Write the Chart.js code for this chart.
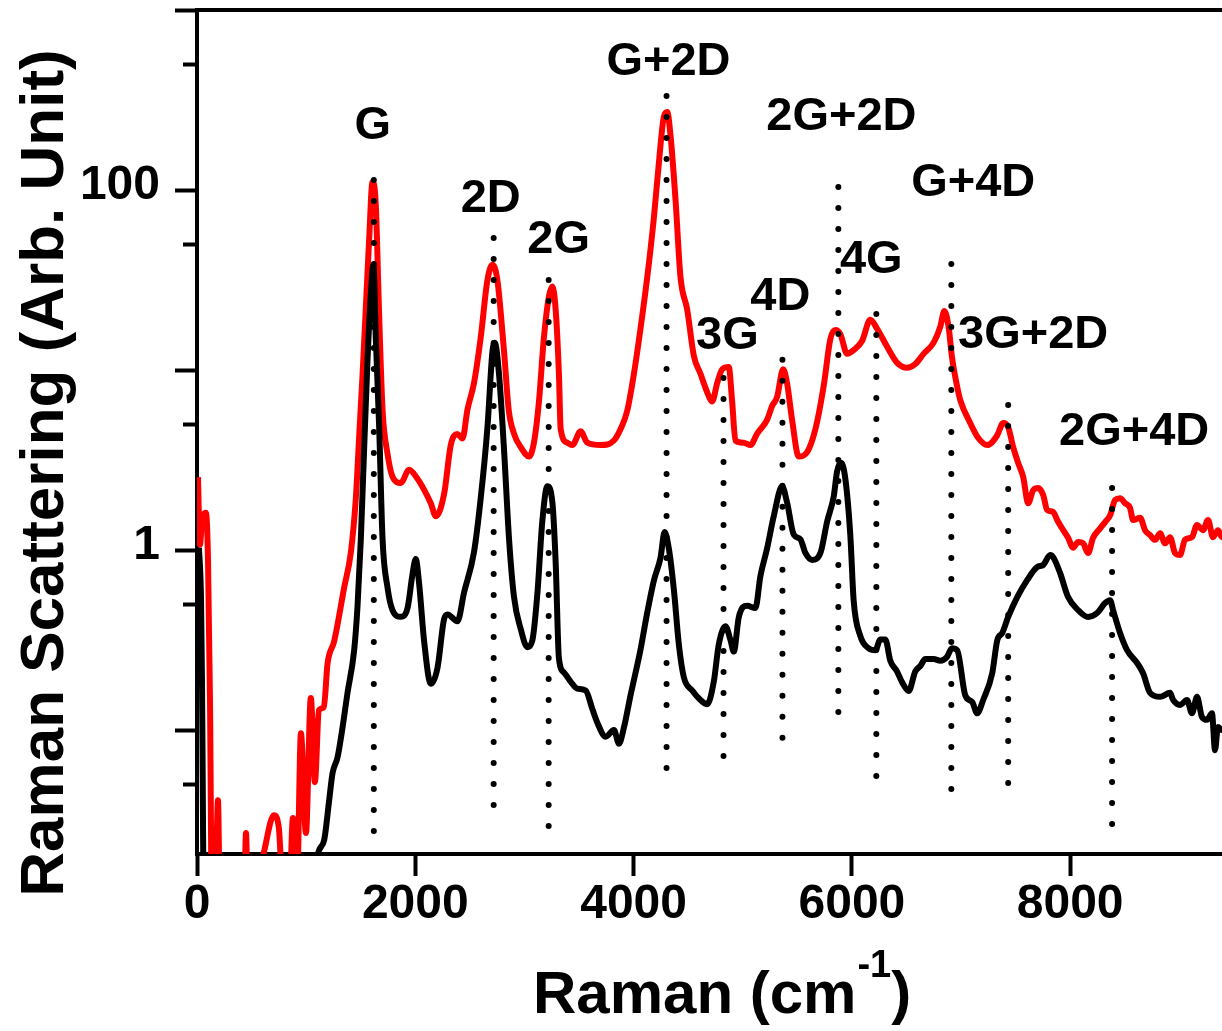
<!DOCTYPE html>
<html><head><meta charset="utf-8">
<script src="https://cdn.jsdelivr.net/npm/chart.js@4.4.0/dist/chart.umd.min.js"></script>
<style>html,body{margin:0;padding:0;background:#fff;overflow:hidden}canvas{display:block}</style>
</head><body>
<canvas id="c" width="1222" height="1031" style="width:1222px;height:1031px"></canvas>
<script>
// ---- data (Raman shift in cm^-1, intensity in arb. units) ----
const redX = [9,27,46,82,101,119,137,165,192,211,430,449,467,604,705,750,796,842,879,906,924,952,998,1043,1080,1117,1162,
1196,1257,1348,1410,1455,1486,1517,1547,1577,1608,1638,1669,1700,1746,1791,1867,1943,2020,2081,2142,2188,2264,2325,2386,2432,2478,2538,2599,2661,2707,2752,2813,2856,2904,2966,3042,3087,3133,3179,3225,3256,3286,3316,3332,3393,3439,3515,3576,3698,3820,3881,3942,4003,4064,4125,4186,4232,4277,4308,4338,4384,4430,4491,4552,4613,4674,4720,4766,4812,4872,4903,4933,5009,5071,5132,5223,5269,5315,5370,5406,5452,5513,5590,5666,5742,5803,5849,5895,5956,6016,6093,6169,6230,6322,6413,6505,6581,6657,6749,6810,6847,6886,6917,6963,6993,7084,7158,7240,7286,7332,7387,7432,7478,7524,7570,7615,7661,7707,7753,7789,7844,7881,7936,7981,8027,8073,8119,8164,8210,8274,8320,8366,8412,8457,8503,8549,8576,8641,8686,8732,8778,8824,8869,8915,8961,9006,9052,9116,9162,9217,9263,9308,9354,9391,9420];
const redY = [2.54,1.07,1.47,1.61,0.88,0.147,0.01,0.01,0.0408,0.01,0.01,0.0268,0.01,0.0199,0.0337,0.0285,0.01,0.01,0.0325,0.01,0.018,0.0962,0.0268,0.151,0.0514,0.129,0.134,
0.234,0.312,0.617,0.975,1.93,4.30,9.50,22.4,52.8,111,83.0,19.95,6.03,3.41,2.56,2.36,2.79,2.49,2.16,1.82,1.54,2.05,3.83,4.41,4.16,6.03,8.49,15.1,31.6,38.5,31.6,12.7,6.0,4.44,3.73,3.31,3.95,6.69,15.3,25.8,29.1,21.7,9.53,4.70,3.95,3.83,4.57,3.95,3.83,4.06,4.70,5.95,9.53,17.1,32.7,70.2,142,255,271,202,88.7,32.7,21.7,12.0,9.53,7.53,6.69,8.47,10.1,10.4,6.69,4.06,3.95,3.83,4.44,5.29,6.31,7.10,10.1,8.47,5.29,3.31,3.50,4.70,8.18,14.9,16.7,15.8,12.3,12.9,14.5,19.05,17.0,13.5,11.0,10.3,10.8,12.3,14.2,17.4,21.3,17.4,11.8,8.18,6.81,5.08,4.19,3.83,3.98,4.35,5.08,4.82,3.73,3.04,2.54,1.82,2.15,2.21,2.02,1.67,1.63,1.47,1.29,1.17,1.03,1.11,1.09,0.962,1.17,1.32,1.43,1.56,1.90,1.94,1.82,1.71,1.47,1.51,1.29,1.21,1.14,1.24,1.09,1.18,0.962,0.938,1.14,1.18,1.38,1.29,1.47,1.18,1.29,1.18,1.25];

const blackX = [18,37,46,64,1060,1105,1165,1211,1242,1288,1334,1379,1440,1471,1501,1531,1562,1593,1616,1638,1669,1700,1746,1791,1867,1929,1974,2004,2035,2081,2142,2203,2264,2295,2386,2447,2538,2599,2661,2707,2728,2767,2813,2859,2904,2966,3027,3073,3118,3164,3210,3256,3286,3316,3362,3423,3484,3561,3622,3668,3744,3820,3866,3911,3972,4064,4125,4186,4247,4284,4323,4369,4415,4460,4537,4613,4674,4735,4780,4842,4888,4918,4964,5040,5116,5162,5223,5284,5361,5406,5467,5528,5574,5636,5712,5773,5834,5864,5901,5940,5986,6016,6077,6153,6215,6261,6306,6352,6413,6459,6520,6581,6627,6673,6749,6810,6871,6917,6965,7039,7103,7148,7203,7286,7332,7377,7432,7515,7606,7698,7753,7817,7844,7908,7981,8073,8164,8247,8320,8366,8393,8457,8521,8613,8668,8732,8824,8915,8943,9006,9070,9116,9162,9208,9253,9299,9327,9354,9391,9420];
const blackY = [1.03,0.527,0.178,0.01,0.01,0.02,0.0245,0.0408,0.0577,0.0708,0.104,0.161,0.278,0.491,1.15,3.61,11.3,26.5,38.3,15.1,4.82,1.15,0.617,0.464,0.426,0.477,0.732,0.893,0.652,0.311,0.181,0.221,0.414,0.438,0.402,0.582,0.975,1.93,4.80,12.7,14.2,9.50,3.61,1.15,0.551,0.364,0.289,0.316,0.568,1.45,2.26,1.84,0.858,0.250,0.209,0.186,0.170,0.166,0.131,0.110,0.0919,0.100,0.0841,0.103,0.156,0.281,0.449,0.678,0.908,1.26,1.02,0.603,0.298,0.197,0.166,0.147,0.139,0.186,0.298,0.377,0.316,0.273,0.424,0.491,0.476,0.718,1.02,1.54,2.26,1.84,1.22,1.15,0.964,0.882,0.964,1.44,1.99,2.73,3.06,2.49,1.20,0.527,0.334,0.285,0.278,0.319,0.319,0.243,0.212,0.185,0.165,0.212,0.227,0.248,0.248,0.243,0.255,0.285,0.278,0.156,0.143,0.124,0.147,0.207,0.316,0.346,0.425,0.548,0.681,0.805,0.826,0.938,0.914,0.745,0.548,0.464,0.425,0.447,0.508,0.527,0.464,0.346,0.278,0.236,0.207,0.161,0.153,0.161,0.147,0.138,0.147,0.124,0.153,0.118,0.114,0.124,0.0774,0.104,0.1,0.11];

// peak assignments: dotted marker lines and their labels
const peakNames = ['G','2D','2G','G+2D','3G','4D','2G+2D','4G','G+4D','3G+2D','2G+4D'];
const peakLineX = [1620,2718,3222,4302,4824,5364,5876,6224,6911,7432,8384];
const peakLineTop = [113.6,54.1,31.6,333,9.03,11.4,104,20.5,38.8,6.39,2.21];
const peakLineBottom = [0.0215,0.0369,0.0268,0.0555,0.0664,0.0858,0.117,0.0514,0.0424,0.0476,0.0278];
const labelX = [1611,2691,3313,4320,4860,5345,5904,6178,7112,7661,8586];
const labelY = [227,89.1,52.7,514,15.4,25.4,254,40.8,109,15.6,4.53];

// axes
const xTickValues = [0,2000,4000,6000,8000];
const yTickValues = [0.05,0.1,0.5,1,5,10,50,100,500,1000];
const yMajorValues = [0.1,1,10,100,1000];
const yLabelValues = [1,100];
const xTitle = 'Raman (cm';
const xTitleSup = '-1';
const yTitle = 'Raman Scattering (Arb. Unit)';

const FONT = '"Liberation Sans", Arial, Helvetica, sans-serif';

const toPts = (xs, ys) => xs.map((x, i) => ({x: x, y: ys[i]}));

const datasets = [];
peakLineX.forEach((x, i) => {
  datasets.push({
    label: peakNames[i] + ' marker',
    data: [{x: x, y: peakLineTop[i]}, {x: x, y: peakLineBottom[i]}],
    borderColor: '#000', borderWidth: 6, borderDash: [0, 21], borderCapStyle: 'round',
    pointRadius: 0, order: 0, xAxisID: 'x', yAxisID: 'y'
  });
});
datasets.push({label: 'black', data: toPts(blackX, blackY), borderColor: '#000', borderWidth: 6,
  pointRadius: 0, order: 1, xAxisID: 'x', yAxisID: 'y', borderJoinStyle: 'round',
  cubicInterpolationMode: 'monotone'});
datasets.push({label: 'red', data: toPts(redX, redY), borderColor: '#ff0000', borderWidth: 6,
  pointRadius: 0, order: 2, xAxisID: 'x', yAxisID: 'y', borderJoinStyle: 'round',
  cubicInterpolationMode: 'monotone'});

const textPlugin = {
  id: 'texts',
  afterDraw(chart) {
    const ctx = chart.ctx, xs = chart.scales.x, ys = chart.scales.y;
    ctx.save();
    ctx.fillStyle = '#000';
    ctx.font = 'bold 47px ' + FONT;
    ctx.textAlign = 'center';
    ctx.textBaseline = 'middle';
    peakNames.forEach((t, i) => {
      ctx.fillText(t, xs.getPixelForValue(labelX[i]), ys.getPixelForValue(labelY[i]));
    });
    // y title
    ctx.save();
    ctx.translate(63, 473);
    ctx.rotate(-Math.PI / 2);
    ctx.font = 'bold 62px ' + FONT;
    ctx.textAlign = 'center';
    ctx.textBaseline = 'alphabetic';
    ctx.fillText(yTitle, 0, 0);
    ctx.restore();
    // x title with superscript
    ctx.textAlign = 'left';
    ctx.textBaseline = 'alphabetic';
    const x0 = 533, yb = 1013;
    ctx.font = 'bold 60px ' + FONT;
    ctx.fillText(xTitle, x0, yb);
    const w1 = ctx.measureText(xTitle).width;
    ctx.font = 'bold 38px ' + FONT;
    ctx.fillText(xTitleSup, x0 + w1 + 1, yb - 36);
    const w2 = ctx.measureText(xTitleSup).width;
    ctx.font = 'bold 60px ' + FONT;
    ctx.fillText(')', x0 + w1 + w2 + 1, yb);
    ctx.restore();
  }
};

const tickFont = {family: FONT, weight: 'bold', size: 48};

new Chart(document.getElementById('c'), {
  type: 'line',
  data: {datasets: datasets},
  options: {
    responsive: false,
    animation: false,
    devicePixelRatio: 1,
    layout: {padding: {top: 10, left: 0, right: 0, bottom: 0}},
    plugins: {legend: {display: false}, tooltip: {enabled: false}},
    elements: {point: {radius: 0}, line: {tension: 0}},
    scales: {
      x: {
        type: 'linear', position: 'bottom', min: 0, max: 9391,
        afterBuildTicks: s => { s.ticks = xTickValues.map(v => ({value: v})); },
        afterFit: s => { s.height = 177; s.paddingLeft = 0; s.paddingRight = 0; },
        ticks: {font: tickFont, color: '#000', padding: 0, maxRotation: 0, autoSkip: false,
                callback: v => String(v)},
        grid: {drawOnChartArea: false, drawTicks: true, tickLength: 22, tickWidth: 4, tickColor: '#000'},
        border: {display: true, color: '#000', width: 4}
      },
      xTop: {
        type: 'linear', position: 'top', min: 0, max: 9391,
        ticks: {display: false},
        grid: {drawOnChartArea: false, drawTicks: false},
        border: {display: true, color: '#000', width: 4},
        afterFit: s => { s.height = 0; s.paddingLeft = 0; s.paddingRight = 0; }
      },
      y: {
        type: 'logarithmic', position: 'left', min: 0.0205, max: 1000,
        afterBuildTicks: s => { s.ticks = yTickValues.map(v => ({value: v})); },
        afterFit: s => { s.width = 197; s.paddingTop = 0; s.paddingBottom = 0; },
        ticks: {font: tickFont, color: '#000', padding: 15, labelOffset: -4, autoSkip: false,
                callback: v => (yLabelValues.includes(v) ? String(v) : '')},
        grid: {drawOnChartArea: false, drawTicks: true, tickLength: 22, tickWidth: 4, tickColor: '#000',
               tickBorderDash: c => (c.tick && yMajorValues.includes(c.tick.value)) ? [] : [0, 8, 100]},
        border: {display: true, color: '#000', width: 4}
      }
    }
  },
  plugins: [textPlugin]
});
</script>
</body></html>
